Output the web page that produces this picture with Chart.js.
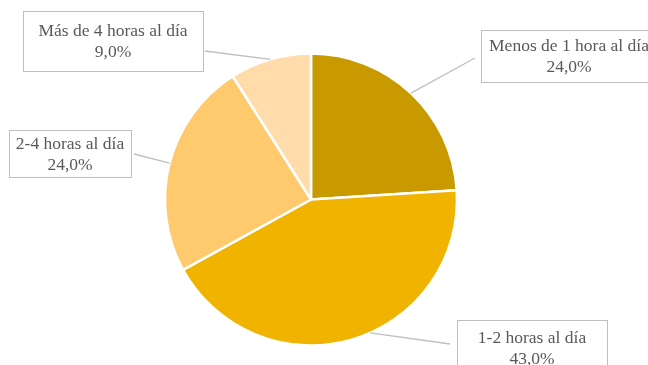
<!DOCTYPE html>
<html>
<head>
<meta charset="utf-8">
<script src="https://cdn.jsdelivr.net/npm/chart.js@4/dist/chart.umd.min.js"></script>
<style>
  html, body { margin: 0; padding: 0; background: #ffffff; }
  #wrap { width: 648px; height: 365px; }
</style>
</head>
<body>
<div id="wrap"><canvas id="c" width="648" height="365"></canvas></div>
<script>
// ---- Data ----
const categories = ['Menos de 1 hora al día', '1-2 horas al día', '2-4 horas al día', 'Más de 4 horas al día'];
const values = [24.0, 43.0, 24.0, 9.0];
const sliceColors = ['#C99A00', '#F0B400', '#FFC96E', '#FFDCA9'];

// ---- Label layout (boxes and leader-line ends, in page pixels) ----
const labelLayout = [
  { box: [481, 30, 176, 52], lineEnd: [475, 58], anchorFrac: 0.5 },
  { box: [457, 320, 150, 56], lineEnd: [450, 344], anchorFrac: 0.45 },
  { box: [9, 130, 122, 47], lineEnd: [134, 154], anchorFrac: 0.5 },
  { box: [23, 11, 180, 60], lineEnd: [205, 51], anchorFrac: 0.5 }
];

function fmtPct(v) {
  return v.toFixed(1).replace('.', ',') + '%';
}

const calloutPlugin = {
  id: 'callouts',
  afterDatasetsDraw(chart) {
    const ctx = chart.ctx;
    const meta = chart.getDatasetMeta(0);
    ctx.save();
    meta.data.forEach((arc, i) => {
      const p = arc.getProps(['x', 'y', 'startAngle', 'endAngle', 'outerRadius'], true);
      const L = labelLayout[i];
      const ang = p.startAngle + (p.endAngle - p.startAngle) * L.anchorFrac;
      const ax = p.x + Math.cos(ang) * p.outerRadius;
      const ay = p.y + Math.sin(ang) * p.outerRadius;
      // leader line
      ctx.strokeStyle = '#BFBFBF';
      ctx.lineWidth = 1.3;
      ctx.beginPath();
      ctx.moveTo(ax, ay);
      ctx.lineTo(L.lineEnd[0], L.lineEnd[1]);
      ctx.stroke();
      // box
      const [bx, by, bw, bh] = L.box;
      ctx.fillStyle = '#ffffff';
      ctx.fillRect(bx, by, bw, bh);
      ctx.strokeStyle = '#BFBFBF';
      ctx.lineWidth = 1;
      ctx.strokeRect(bx + 0.5, by + 0.5, bw, bh);
      // text
      ctx.fillStyle = '#595959';
      ctx.font = '17.5px "Liberation Serif", "Times New Roman", serif';
      ctx.textAlign = 'center';
      ctx.textBaseline = 'middle';
      const cx = bx + bw / 2;
      const cy = by + bh / 2 + 1;
      ctx.fillText(categories[i], cx, cy - 10.5);
      ctx.fillText(fmtPct(values[i]), cx, cy + 10.5);
    });
    ctx.restore();
  }
};

new Chart(document.getElementById('c'), {
  type: 'pie',
  data: {
    labels: categories,
    datasets: [{
      data: values,
      backgroundColor: sliceColors,
      borderColor: '#ffffff',
      borderWidth: 2.5
    }]
  },
  options: {
    responsive: false,
    animation: false,
    layout: { padding: { left: 20, right: 46, top: 54, bottom: 20 } },
    radius: 146,
    plugins: {
      legend: { display: false },
      tooltip: { enabled: false }
    }
  },
  plugins: [calloutPlugin]
});
</script>
</body>
</html>
